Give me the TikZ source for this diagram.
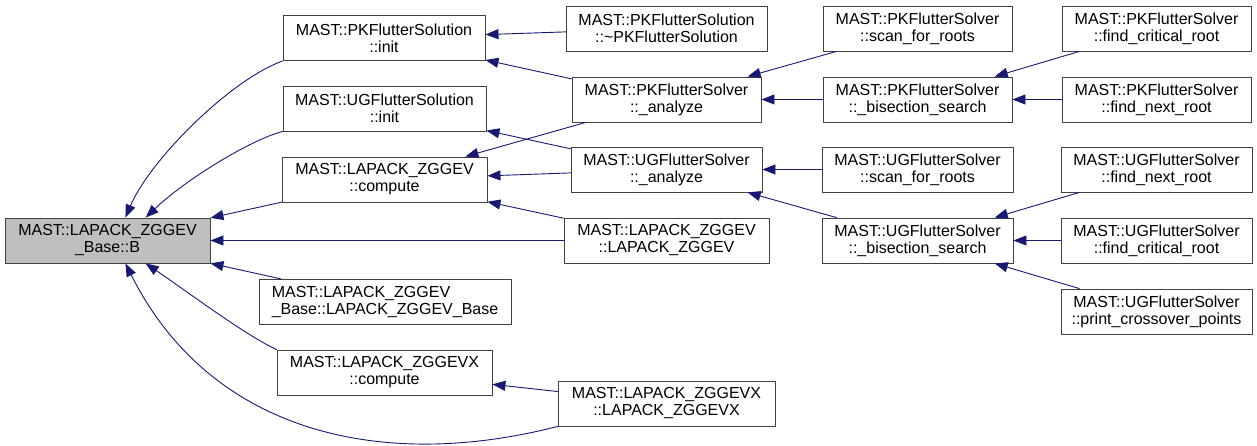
\documentclass[tikz,border=0pt]{standalone}
\usepackage{fontspec}
\setmainfont{Liberation Sans}
\usetikzlibrary{arrows.meta}

\definecolor{edgeblue}{RGB}{25,25,112}
\definecolor{nodegray}{RGB}{191,191,191}

\begin{document}
\begin{tikzpicture}[
			x=1pt,
			y=-1pt,
			line cap=round,
			line join=round,
			font=\fontsize{16}{17}\selectfont,
			fn/.style={draw=black!75,line width=0.9pt,fill=white,minimum height=45pt,inner sep=0pt,align=center},
			fnleft/.style={fn,align=left},
			current/.style={fn,fill=nodegray},
			call/.style={draw=edgeblue,line width=0.9pt,-{Triangle[length=13pt,width=10pt]}}
			]
			
			\useasboundingbox[fill=white] (0,0) rectangle (1257,446);
			
			% Column 0
			\node[current,minimum width=205pt] (B) at (107.5,240.5) {MAST::LAPACK\_ZGGEV\\\_Base::B};
			
			% Column 1
			\node[fn,minimum width=202pt] (pkinit) at (384,38) {MAST::PKFlutterSolution\\::init};
			\node[fn,minimum width=203pt] (uginit) at (384.5,108.5) {MAST::UGFlutterSolution\\::init};
			\node[fn,minimum width=205pt] (zgcomp) at (384.5,179.5) {MAST::LAPACK\_ZGGEV\\::compute};
			\node[fnleft,minimum width=252pt] (zgbase) at (385,302) {MAST::LAPACK\_ZGGEV\\\_Base::LAPACK\_ZGGEV\_Base};
			\node[fn,minimum width=215pt] (zgxcomp) at (384.5,372.5) {MAST::LAPACK\_ZGGEVX\\::compute};
			
			% Column 2
			\node[fn,minimum width=201pt] (pkdtor) at (666.5,28.5) {MAST::PKFlutterSolution\\::\textasciitilde PKFlutterSolution};
			\node[fn,minimum width=189pt] (pkanalyze) at (666.5,99.5) {MAST::PKFlutterSolver\\::\_analyze};
			\node[fn,minimum width=191pt] (uganalyze) at (666.5,169.5) {MAST::UGFlutterSolver\\::\_analyze};
			\node[fn,minimum width=205pt] (zgctor) at (666.5,240.5) {MAST::LAPACK\_ZGGEV\\::LAPACK\_ZGGEV};
			\node[fn,minimum width=217pt] (zgxctor) at (666.5,403.5) {MAST::LAPACK\_ZGGEVX\\::LAPACK\_ZGGEVX};
			
			% Column 3
			\node[fn,minimum width=189pt] (pkscan) at (917.5,28.5) {MAST::PKFlutterSolver\\::scan\_for\_roots};
			\node[fn,minimum width=189pt] (pkbisect) at (917.5,99.5) {MAST::PKFlutterSolver\\::\_bisection\_search};
			\node[fn,minimum width=191pt] (ugscan) at (917.5,169.5) {MAST::UGFlutterSolver\\::scan\_for\_roots};
			\node[fn,minimum width=191pt] (ugbisect) at (917.5,240.5) {MAST::UGFlutterSolver\\::\_bisection\_search};
			
			% Column 4
			\node[fn,minimum width=189pt] (pkcrit) at (1156.5,28.5) {MAST::PKFlutterSolver\\::find\_critical\_root};
			\node[fn,minimum width=189pt] (pknext) at (1156.5,99.5) {MAST::PKFlutterSolver\\::find\_next\_root};
			\node[fn,minimum width=191pt] (ugnext) at (1156.5,169.5) {MAST::UGFlutterSolver\\::find\_next\_root};
			\node[fn,minimum width=191pt] (ugcrit) at (1156.5,240.5) {MAST::UGFlutterSolver\\::find\_critical\_root};
			\node[fn,minimum width=191pt] (ugprint) at (1156.5,311.5) {MAST::UGFlutterSolver\\::print\_crossover\_points};
			
			% Callers of B
			\draw[call] (pkinit.south west) .. controls (230,80) and (150,160) .. (B.52);
			\draw[call] (uginit.south west) .. controls (250,140) and (185,180) .. (B.31);
			\draw[call] (zgcomp) -- (B);
			\draw[call] (zgctor) -- (B);
			\draw[call] (zgbase) -- (B);
			\draw[call] (zgxcomp.north west) .. controls (245,335) and (185,290) .. (B.-31);
			\draw[call] (zgxctor.south west) .. controls (380,472) and (210,432) .. (B.-52);
			
			% Column 1 callers
			\draw[call] (pkdtor) -- (pkinit);
			\draw[call] (pkanalyze) -- (pkinit);
			\draw[call] (uganalyze) -- (uginit);
			\draw[call] (pkanalyze) -- (zgcomp);
			\draw[call] (uganalyze) -- (zgcomp);
			\draw[call] (zgctor) -- (zgcomp);
			\draw[call] (zgxctor) -- (zgxcomp);
			
			% Column 2 callers
			\draw[call] (pkscan) -- (pkanalyze);
			\draw[call] (pkbisect) -- (pkanalyze);
			\draw[call] (ugscan) -- (uganalyze);
			\draw[call] (ugbisect) -- (uganalyze);
			
			% Column 3 callers
			\draw[call] (pkcrit) -- (pkbisect);
			\draw[call] (pknext) -- (pkbisect);
			\draw[call] (ugnext) -- (ugbisect);
			\draw[call] (ugcrit) -- (ugbisect);
			\draw[call] (ugprint) -- (ugbisect);
			
		\end{tikzpicture}
\end{document}
